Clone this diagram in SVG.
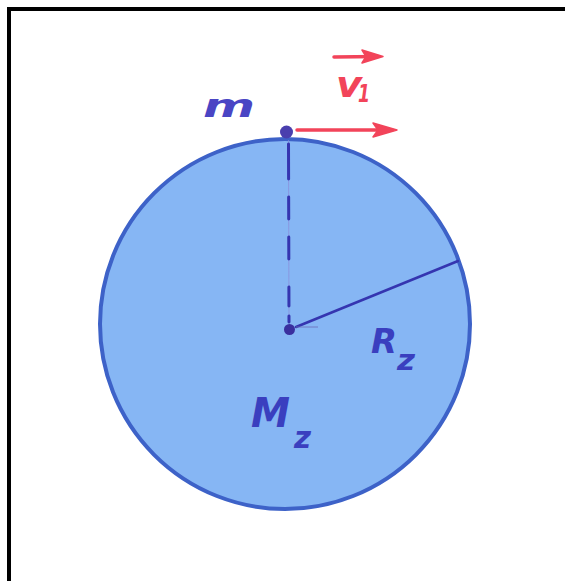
<svg xmlns="http://www.w3.org/2000/svg" width="565" height="581" viewBox="0 0 565 581">
<style>
.lbl{font-family:"DejaVu Sans","Liberation Sans",sans-serif;font-style:italic;font-weight:bold;fill:#3a3fbf}
.red{font-family:"DejaVu Sans","Liberation Sans",sans-serif;font-style:italic;font-weight:bold;fill:#f2445a}
.redline{stroke:#f2445a;stroke-width:3.5;stroke-linecap:round;fill:none}
.head{fill:#f2445a;stroke:#f2445a;stroke-width:1.5;stroke-linejoin:round}
</style>
<rect x="0" y="0" width="565" height="581" fill="#ffffff"/>
<path d="M9 581 V9 H565" fill="none" stroke="#000000" stroke-width="4"/>
<g id="earth">
<circle cx="285" cy="324" r="185" fill="#86b6f4" stroke="#3d62c8" stroke-width="4"/>
</g>
<g id="connectors">
<line x1="288.5" y1="140" x2="289" y2="325" stroke="#8a8ad8" stroke-width="0.7"/>
<line x1="288.5" y1="144" x2="289" y2="325" stroke="#3535b0" stroke-width="3" stroke-dasharray="35 18 22 18 22 28 19 10 6 5" stroke-linecap="round"/>
<line x1="296" y1="327" x2="458" y2="261" stroke="#3535b0" stroke-width="2.5" stroke-linecap="round"/>
<line x1="296" y1="327" x2="318" y2="327" stroke="#6a6ab8" stroke-width="0.8"/>
<line class="redline" x1="297" y1="130" x2="392" y2="130"/>
<path class="head" d="M397 130 L373 123 L378 130 L373 137 Z"/>
<line class="redline" x1="334" y1="57" x2="378" y2="56.5"/>
<path class="head" d="M383 56.5 L362 50 L366 56.5 L362 63 Z"/>
</g>
<g id="mass">
<circle cx="286.5" cy="132" r="6.5" fill="#4a3fae"/>
<text class="lbl" x="203" y="117" font-size="32" textLength="52" lengthAdjust="spacingAndGlyphs" style="fill:#4a45c4">m</text>
</g>
<g id="center">
<circle cx="289.5" cy="329.5" r="5.5" fill="#3a2f9e"/>
</g>
<g id="v1-label">
<text class="red" x="336" y="97" font-size="36" textLength="26" lengthAdjust="spacingAndGlyphs">v</text>
<text class="red" x="358" y="102" font-size="24" textLength="12" lengthAdjust="spacingAndGlyphs">1</text>
</g>
<g id="Rz-label">
<text class="lbl" x="371" y="353" font-size="34" textLength="26" lengthAdjust="spacingAndGlyphs">R</text>
<text class="lbl" x="397" y="370" font-size="28" textLength="18" lengthAdjust="spacingAndGlyphs">z</text>
</g>
<g id="Mz-label">
<text class="lbl" x="251" y="427" font-size="41" textLength="39" lengthAdjust="spacingAndGlyphs">M</text>
<text class="lbl" x="294" y="448" font-size="30" textLength="17" lengthAdjust="spacingAndGlyphs">z</text>
</g>
</svg>
